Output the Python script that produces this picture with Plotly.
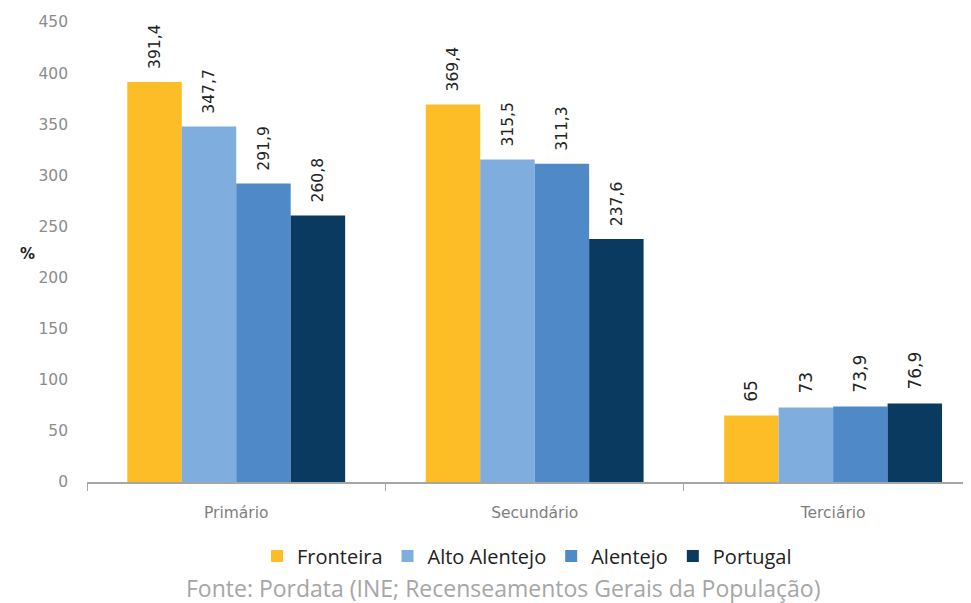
import plotly.graph_objects as go

categories = ["Primário", "Secundário", "Terciário"]
series_names = ["Fronteira", "Alto Alentejo", "Alentejo", "Portugal"]
fronteira = [391.4, 369.4, 65]
alto_alentejo = [347.7, 315.5, 73]
alentejo = [291.9, 311.3, 73.9]
portugal = [260.8, 237.6, 76.9]
colors = ["#FDBD27", "#7FADDD", "#4F89C8", "#0B3A60"]
y_ticks = [0, 50, 100, 150, 200, 250, 300, 350, 400, 450]

def fmt(v):
    s = ("%.1f" % v).rstrip("0").rstrip(".")
    return s.replace(".", ",")

# page body has an 8px margin: figure is drawn at (8, 8)
W, H = 963, 595
L, T, B = 79, 14, 121
PH = H - T - B  # 460

fig = go.Figure()
for name, vals, col in zip(series_names, [fronteira, alto_alentejo, alentejo, portugal], colors):
    fig.add_trace(go.Bar(
        x=categories, y=vals, name=name, marker_color=col, marker_line_width=0,
        text=["  " + fmt(v) for v in vals], textposition="outside", textangle=-90,
        textfont=dict(family="DejaVu Sans", size=17, color="#222222"),
        cliponaxis=False,
    ))

fig.update_layout(
    width=W, height=H,
    margin=dict(l=L, r=0, t=T, b=B, autoexpand=False),
    paper_bgcolor="white", plot_bgcolor="white",
    barmode="group", bargap=0.27, bargroupgap=0,
    showlegend=True,
    legend=dict(orientation="h", x=(527 - 8 - L) / 884, xanchor="center", xref="paper",
                y=(H - (556 - 8)) / H, yref="container", yanchor="middle",
                font=dict(family="Open Sans", size=20, color="#222222"),
                traceorder="normal", itemwidth=30),
    xaxis=dict(range=[-0.5, 2.462], showline=True, linecolor="#A6A6A6", linewidth=1.5,
               ticks="outside", tickson="boundaries", ticklen=7, tickcolor="#A6A6A6",
               tickfont=dict(family="DejaVu Sans", size=15.5, color="#7F7F7F"),
               ticklabelstandoff=16, automargin=False,
               showgrid=False, zeroline=False),
    yaxis=dict(range=[0, 450], tickvals=y_ticks, showgrid=False, zeroline=False, showline=False,
               tickfont=dict(family="DejaVu Sans", size=15.5, color="#8C8C8C"),
               ticklabelstandoff=18, automargin=False),
    annotations=[
        dict(text="<b>%</b>", x=(18 - 8 - L) / 884, y=(482 - 254) / PH, xref="paper", yref="paper",
             showarrow=False, font=dict(family="DejaVu Sans", size=15, color="#222222")),
        dict(text="Fonte: Pordata (INE; Recenseamentos Gerais da População)",
             x=(503 - 8 - L) / 884, y=(482 - 588) / PH,
             xref="paper", yref="paper", xanchor="center", yanchor="middle", showarrow=False,
             font=dict(family="Open Sans", size=23, color="#A6A6A6")),
    ],
)
fig.write_html("out.html")
